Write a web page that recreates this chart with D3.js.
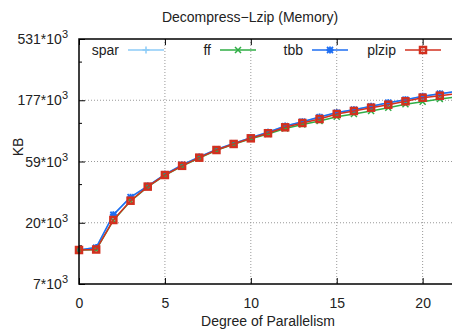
<!DOCTYPE html>
<html><head><meta charset="utf-8">
<script src="https://cdn.jsdelivr.net/npm/d3@7"></script>
<style>body{margin:0;background:#fff}svg{display:block}text{font-family:"Liberation Sans",Arial,sans-serif;fill:#222}</style>
</head><body>
<svg id="c" width="452" height="331"></svg>
<script>
const xs = d3.range(0, 23);
const spar  = [12060,12600,22600,31000,38000,46900,55400,63900,73200,81500,90400,99600,111000,120000,130500,141500,149000,158300,169000,178200,189500,198500,207300];
const ff    = [12060,12100,20500,29000,37400,46000,54300,62800,72000,80300,88600,96500,106700,114500,122000,131700,138300,146000,154900,164600,172400,181000,188300];
const tbb   = [12060,12600,22700,31100,38000,46900,55400,63900,73200,81500,90400,99600,111500,120500,131000,142000,149400,158800,169400,178700,190000,199000,207800];
const plzip = [12060,12170,20660,29200,37600,46300,54600,63200,72500,80800,89400,97900,108900,117700,126400,138300,146000,154900,163400,173700,185300,192000,199800];
const seriesNames = ["spar","ff","tbb","plzip"];
const yTicks = [7000,20000,59000,177000,531000];
const yTickLabels = ["7","20","59","177","531"];
const xTicks = [0,5,10,15,20];

const colors = {spar:"#8ccbf7", ff:"#2fae45", tbb:"#1e6ef2", plzip:"#d2301f"};
const seriesData = {spar, ff, tbb, plzip};

const svg = d3.select("#c");
const L = 79, R = 457, T = 39, B = 284;
const x = d3.scaleLinear().domain([0,22]).range([L,R]);
const yMin = 531000/Math.pow(3,4);
const y = d3.scaleLog().base(3).domain([yMin,531000]).range([B,T]);

// grid
const g = svg.append("g");
xTicks.filter(t=>t>0).forEach(t=>{
  g.append("line").attr("x1",x(t)).attr("x2",x(t)).attr("y1",T).attr("y2",B)
   .attr("stroke","#999").attr("stroke-width",1).attr("stroke-dasharray","1,2");
});
[yMin*3, yMin*9, yMin*27].forEach(v=>{
  g.append("line").attr("x1",L).attr("x2",R).attr("y1",y(v)).attr("y2",y(v))
   .attr("stroke","#999").attr("stroke-width",1).attr("stroke-dasharray","1,2");
});

// axes with inward ticks
const xAxis = d3.axisBottom(x).tickValues(xTicks).tickSize(-6).tickPadding(14).tickFormat(d3.format("d"));
const xg = svg.append("g").attr("transform",`translate(0,${B})`).call(xAxis);
xg.select(".domain").remove();
xg.selectAll("text").style("font-size","14px").attr("fill","#222");
const xTop = d3.axisTop(x).tickValues(xTicks).tickSize(-6).tickFormat("");
const xtg = svg.append("g").attr("transform",`translate(0,${T})`).call(xTop);
xtg.select(".domain").remove();

const majorVals = [0,1,2,3,4].map(k=>yMin*Math.pow(3,k));
const minorVals = [0,1,2,3].map(k=>2*yMin*Math.pow(3,k));
const yAxis = d3.axisLeft(y).tickValues(majorVals).tickSize(-6).tickFormat("");
const yg = svg.append("g").attr("transform",`translate(${L},0)`).call(yAxis);
yg.select(".domain").remove();
const yMinor = d3.axisLeft(y).tickValues(minorVals).tickSize(-3).tickFormat("");
const ymg = svg.append("g").attr("transform",`translate(${L},0)`).call(yMinor);
ymg.select(".domain").remove();
svg.selectAll(".tick line").attr("stroke","#000");

// y labels
majorVals.forEach((v,i)=>{
  const t = svg.append("text").attr("x",L-11).attr("y",y(v)+5).attr("text-anchor","end").style("font-size","14px");
  t.append("tspan").text(yTickLabels[i]+"*10");
  t.append("tspan").attr("dy",-6).style("font-size","11px").text("3");
});

// clip
svg.append("clipPath").attr("id","clip").append("rect").attr("x",L-6).attr("y",T-6).attr("width",R-L+12).attr("height",B-T+12);
const plot = svg.append("g").attr("clip-path","url(#clip)");

function marker(sel, name, cx, cy){
  const c = colors[name];
  if(name==="spar"){
    sel.append("path").attr("d",`M${cx-3.5},${cy}H${cx+3.5}M${cx},${cy-3.5}V${cy+3.5}`).attr("stroke",c).attr("stroke-width",1.5);
  } else if(name==="ff"){
    sel.append("path").attr("d",`M${cx-3},${cy-3}L${cx+3},${cy+3}M${cx-3},${cy+3}L${cx+3},${cy-3}`).attr("stroke",c).attr("stroke-width",1.5);
  } else if(name==="tbb"){
    sel.append("path").attr("d",`M${cx-3.5},${cy}H${cx+3.5}M${cx},${cy-3.5}V${cy+3.5}M${cx-3},${cy-3}L${cx+3},${cy+3}M${cx-3},${cy+3}L${cx+3},${cy-3}`).attr("stroke",c).attr("stroke-width",1.8);
  } else {
    sel.append("rect").attr("x",cx-3).attr("y",cy-3).attr("width",6).attr("height",6).attr("fill","none").attr("stroke",c).attr("stroke-width",2.5);
  }
}

const line = d3.line().x((d,i)=>x(xs[i])).y(d=>y(d));
["spar","tbb","ff","plzip"].forEach(name=>{
  const data = seriesData[name];
  plot.append("path").datum(data).attr("d",line).attr("fill","none").attr("stroke",colors[name]).attr("stroke-width",1.5);
  data.forEach((d,i)=>marker(plot,name,x(xs[i]),y(d)));
});

// legend
const legX = [128,220,312,405];
seriesNames.forEach((name,i)=>{
  const lx = legX[i], ly = 50;
  svg.append("text").attr("x",lx-9).attr("y",ly+5).attr("text-anchor","end").style("font-size","14px").text(name);
  svg.append("line").attr("x1",lx).attr("x2",lx+36).attr("y1",ly).attr("y2",ly).attr("stroke",colors[name]).attr("stroke-width",1.5);
  marker(svg,name,lx+18,ly);
});

// border
svg.append("rect").attr("x",L).attr("y",T).attr("width",R-L).attr("height",B-T).attr("fill","none").attr("stroke","#000").attr("stroke-width",1.5);

// title & labels
svg.append("text").attr("x",250).attr("y",22).attr("text-anchor","middle").style("font-size","14px").text("Decompress\u2212Lzip (Memory)");
svg.append("text").attr("x",268).attr("y",326).attr("text-anchor","middle").style("font-size","14px").text("Degree of Parallelism");
svg.append("text").attr("transform","translate(23,147) rotate(-90)").attr("text-anchor","middle").style("font-size","14px").text("KB");
</script>
</body></html>
